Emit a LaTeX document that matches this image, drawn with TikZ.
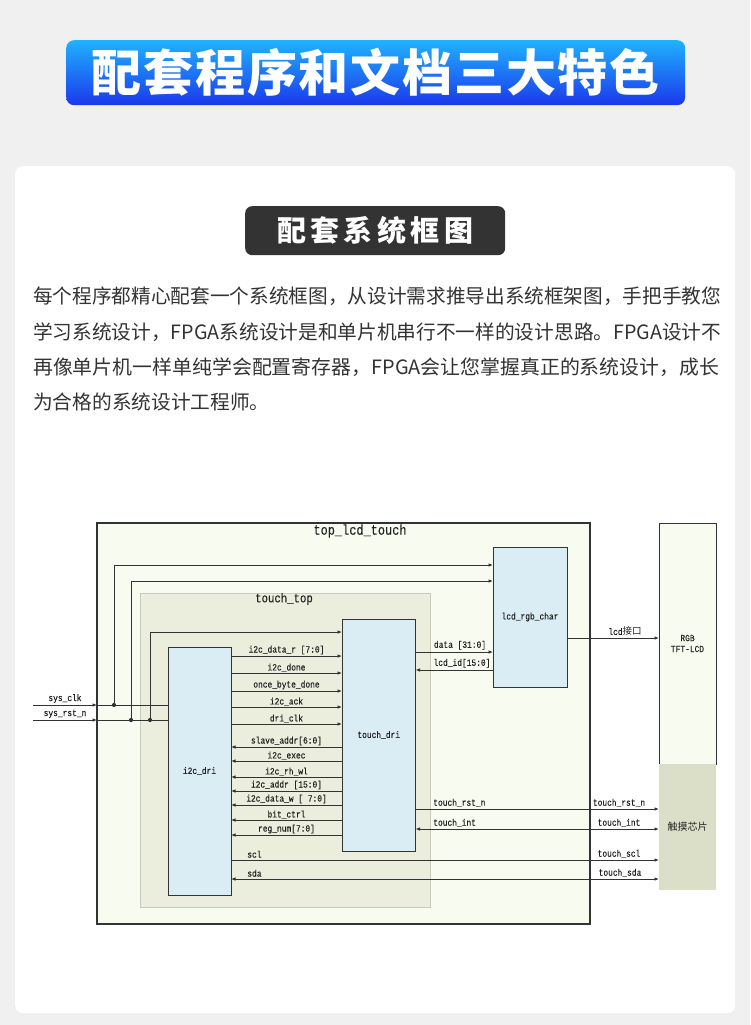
\documentclass[tikz,border=0pt]{standalone}
\usepackage{fontspec}
\setmainfont{Liberation Serif}
\setmonofont{Liberation Mono}
\newfontfamily\cjk{Noto Sans CJK SC}
\newfontfamily\dfont[FakeStretch=0.84,FakeBold=0.25]{Liberation Mono}
\usetikzlibrary{arrows.meta,calc}
\definecolor{bg}{HTML}{F0F0F0}
\definecolor{topfill}{HTML}{F8FBEF}
\definecolor{ttfill}{HTML}{EBEEDD}
\definecolor{ttline}{HTML}{C8CABE}
\definecolor{blkfill}{HTML}{DAEDF5}
\definecolor{chipfill}{HTML}{DCDFC8}
\definecolor{lin}{HTML}{333333}
\definecolor{txt}{HTML}{222222}
\definecolor{para}{HTML}{333333}
\definecolor{gradtop}{HTML}{20B2FF}
\definecolor{gradbot}{HTML}{1B38EC}
\definecolor{darkbox}{HTML}{333333}
\begin{document}
\begin{tikzpicture}[x=1pt,y=-1pt,
  sig/.style={draw=lin, line width=0.9pt},
  arr/.style={sig,-{Latex[length=4.5pt,width=3.6pt]}},
  barr/.style={sig,{Latex[length=4.5pt,width=3.6pt]}-{Latex[length=4.5pt,width=3.6pt]}},
  lbl/.style={font=\dfont\fontsize{9.4}{9.4}\selectfont, text=txt, inner sep=1.1pt},
  blk/.style={draw=lin, line width=0.9pt, fill=blkfill, anchor=north west, inner sep=0pt, outer sep=0pt,
              font=\dfont\fontsize{9.4}{11}\selectfont, text=txt, align=center},
  dot/.style={circle, fill=lin, inner sep=0pt, minimum size=4.2pt},
  paraline/.style={anchor=west, inner sep=0pt, text=para, font=\cjk\fontsize{19.7}{20}\selectfont}
]
\useasboundingbox (0,0) rectangle (750,1025);
\fill[bg] (0,0) rectangle (750,1025);

% title banner
\node[rounded corners=8pt, top color=gradtop, bottom color=gradbot, draw=none,
      minimum width=619pt, minimum height=65pt, inner sep=0pt, anchor=north west] (banner) at (66,40) {};
\node[text=white, inner sep=0pt, font=\cjk\bfseries\fontsize{50}{52}\selectfont] (bannertxt) at (banner.center)
  {\makebox[568pt][s]{配\hfil 套\hfil 程\hfil 序\hfil 和\hfil 文\hfil 档\hfil 三\hfil 大\hfil 特\hfil 色}};

% white card
\node[fill=white, rounded corners=8pt, minimum width=720pt, minimum height=847pt, inner sep=0pt, anchor=north west] (card) at (15,166) {};

% dark label
\node[fill=darkbox, rounded corners=7pt, minimum width=260pt, minimum height=49pt, inner sep=0pt, anchor=north west] (sub) at (245,206) {};
\node[text=white, inner sep=0pt, font=\cjk\bfseries\fontsize{29}{30}\selectfont] (subtxt) at (sub.center)
  {\makebox[196pt][s]{配\hfil 套\hfil 系\hfil 统\hfil 框\hfil 图}};

% paragraph
\node[paraline] (p1) at (33,296) {\resizebox{688pt}{\height}{每个程序都精心配套一个系统框图，从设计需求推导出系统框架图，手把手教您}};
\node[paraline] (p2) at (33,332) {\resizebox{688pt}{\height}{学习系统设计，FPGA系统设计是和单片机串行不一样的设计思路。FPGA设计不}};
\node[paraline] (p3) at (33,367) {\resizebox{686pt}{\height}{再像单片机一样单纯学会配置寄存器，FPGA会让您掌握真正的系统设计，成长}};
\node[paraline] (p4) at (33,402) {为合格的系统设计工程师。};

% ---------------- diagram ----------------
\node[draw=lin, line width=1.3pt, fill=topfill, anchor=north west, minimum width=493pt, minimum height=401pt, inner sep=0pt, outer sep=0pt] (top) at (97,523) {};
\node[lbl, font=\dfont\fontsize{14.2}{14.2}\selectfont] (toplbl) at (360,531) {top\_lcd\_touch};
\node[draw=ttline, line width=0.8pt, fill=ttfill, anchor=north west, minimum width=290pt, minimum height=314pt, inner sep=0pt, outer sep=0pt] (ttop) at (140,593) {};
\node[lbl, font=\dfont\fontsize{12.7}{12.7}\selectfont] (ttoplbl) at (284,599) {touch\_top};

\node[blk, minimum width=63pt, minimum height=248pt] (i2c) at (168,647) {i2c\_dri};
\node[blk, minimum width=73.5pt, minimum height=232pt] (tdri) at (342,619) {touch\_dri};
\node[blk, minimum width=74pt, minimum height=140pt] (lcd) at (493,547) {lcd\_rgb\_char};
\node[blk, fill=topfill, minimum width=57pt, minimum height=241pt] (rgb) at (659,523) {RGB\\TFT-LCD};
\node[blk, draw=none, fill=chipfill, minimum width=57pt, minimum height=126pt, font=\cjk\fontsize{10}{10}\selectfont] (chip) at (659,764) {触摸芯片};

% system inputs
\coordinate (clkin) at (33,705);
\coordinate (rstin) at (33,720);
\draw[arr] (clkin) -- (top.west |- clkin) node[lbl, midway, above, yshift=0.5pt] (clklbl) {sys\_clk};
\draw[arr] (rstin) -- (top.west |- rstin) node[lbl, midway, above, yshift=0.5pt] (rstlbl) {sys\_rst\_n};
\draw[sig] (top.west |- clkin) -- (i2c.west |- clkin);
\draw[sig] (top.west |- rstin) -- (i2c.west |- rstin);
\node[dot] (j1) at (114,705) {};
\node[dot] (j2) at (131,720) {};
\node[dot] (j3) at (150,720) {};
\draw[arr] (j1.center) |- (lcd.west |- 0,565);
\draw[arr] (j2.center) |- (lcd.west |- 0,581);
\draw[arr] (j3.center) |- (tdri.west |- 0,632);

% i2c_dri -> touch_dri
\foreach \yy/\tt in {656/{i2c\_data\_r [7:0]}, 673/{i2c\_done}, 691/{once\_byte\_done}, 707/{i2c\_ack}, 724/{dri\_clk}}{
  \draw[arr] (i2c.east |- 0,\yy) -- (tdri.west |- 0,\yy) node[lbl, midway, above] {\tt};
}
% touch_dri -> i2c_dri
\foreach \yy/\tt in {747/{slave\_addr[6:0]}, 761/{i2c\_exec}, 777/{i2c\_rh\_wl}, 791/{i2c\_addr [15:0]}, 805/{i2c\_data\_w [ 7:0]}, 820/{bit\_ctrl}, 835/{reg\_num[7:0]}}{
  \draw[arr] (tdri.west |- 0,\yy) -- (i2c.east |- 0,\yy) node[lbl, midway, above] {\tt};
}

% touch_dri <-> lcd_rgb_char
\draw[arr] (tdri.east |- 0,652) -- (lcd.west |- 0,652);
\node[lbl, anchor=south] (datalbl) at (460,651) {data [31:0]};
\draw[arr] (lcd.west |- 0,670) -- (tdri.east |- 0,670);
\node[lbl, anchor=south] (idlbl) at (462,669) {lcd\_id[15:0]};

% lcd interface
\draw[arr] (lcd.east |- 0,638) -- (rgb.west |- 0,638);
\node[lbl, anchor=south] (lcdif) at (625,637) {lcd{\cjk\fontsize{9.5}{9.5}\selectfont 接口}};

% touch chip signals
\draw[arr] (tdri.east |- 0,809) -- (chip.west |- 0,809);
\node[lbl, anchor=south west] (trl) at (432,808) {touch\_rst\_n};
\node[lbl, anchor=south] (trr) at (619,808) {touch\_rst\_n};
\draw[barr] (tdri.east |- 0,829) -- (chip.west |- 0,829);
\node[lbl, anchor=south west] (til) at (432,828) {touch\_int};
\node[lbl, anchor=south] (tir) at (619,828) {touch\_int};
\draw[arr] (i2c.east |- 0,860) -- (chip.west |- 0,860);
\node[lbl, anchor=south west] (scll) at (246,859) {scl};
\node[lbl, anchor=south] (sclr) at (619,859) {touch\_scl};
\draw[barr] (i2c.east |- 0,879) -- (chip.west |- 0,879);
\node[lbl, anchor=south west] (sdal) at (246,878) {sda};
\node[lbl, anchor=south] (sdar) at (620,878) {touch\_sda};
\end{tikzpicture}
\end{document}
